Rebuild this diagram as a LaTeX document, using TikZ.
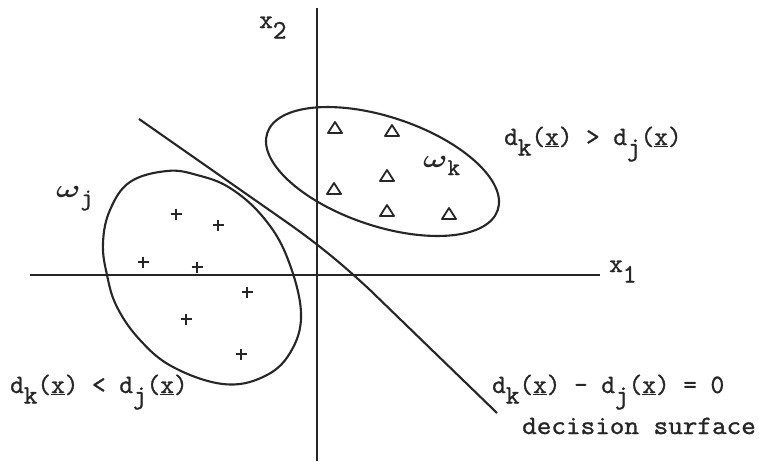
\documentclass[tikz,border=0pt]{standalone}
\usepackage{fontspec}
\setmonofont{Latin Modern Mono}[FakeBold=1.2]
\newcommand\lsub[1]{\raisebox{-10.5pt}{#1}}
\newcommand\osub[1]{\raisebox{-8pt}{\fontsize{24}{24}\selectfont\ttfamily #1}}
\newcommand\omg{\scalebox{1.3}[1]{\fontsize{34}{34}\selectfont\boldmath$\omega$}}
\begin{document}
\begin{tikzpicture}[x=1pt,y=-1pt,
  ln/.style={line width=2.1pt,black!85},
  thin ln/.style={line width=1.8pt,black!85},
  lbl/.style={inner sep=0pt,font=\fontsize{26.5}{26.5}\selectfont\ttfamily,text=black!85},
  cls/.style={inner sep=0pt,text=black!85}]
\fill[white] (0,0) rectangle (759,461);
\useasboundingbox (0,0) rectangle (759,461);
% axes
\coordinate (yt) at (317,8);
\coordinate (yb) at (317,461);
\coordinate (xl) at (30,275);
\coordinate (xr) at (600,275);
\draw[ln] (yt) -- (yb);
\draw[ln] (xl) -- (xr);
% class regions
\draw[ln] plot[smooth cycle, tension=0.65] coordinates {
  (167,171) (197,175) (230,188) (263,217) (287,257) (301,313) (290,353)
  (263,377) (223,384) (173,367) (140,340) (117,307) (107,275) (103,243)
  (110,210) (130,182)};
\draw[ln,rotate around={-18.5:(382.5,171.5)}] (382.5,171.5) ellipse [x radius=121.5pt, y radius=54.5pt];
% decision surface
\coordinate (ds0) at (139,119);
\coordinate (ds1) at (285,221);
\coordinate (ds2) at (370,290);
\coordinate (ds3) at (497,413);
\draw[ln,line join=round] (ds0) -- (ds1) .. controls (315,242) and (340,262) .. (ds2) -- (ds3);
% plus marks
\foreach \p in {(176,214),(218,225),(143,262),(197,267),(247,292),(186,319),(241,354)}
  \draw[thin ln] \p +(-5.5,0) -- +(5.5,0) \p +(0,-5.5) -- +(0,5.5);
% triangles
\foreach \p in {(335,128),(392,131),(387,176),(334,189),(387,211),(449,214)}
  \draw[thin ln,line join=round] \p +(-7,5) -- +(7,5) -- +(0,-6) -- cycle;
% axis labels
\node[lbl,anchor=base west] (x1) at (609,272) {x\lsub{1}};
\node[lbl,anchor=base west] (x2) at (259,28) {x\lsub{2}};
% class labels
\node[cls,anchor=base west] (wj) at (56,197) {\omg\osub{j}};
\node[cls,anchor=base west] (wk) at (423,167) {\omg\osub{k}};
% region labels
\node[lbl,anchor=base west] (gk) at (504,145) {d\lsub{k}(\underline{x}) > d\lsub{j}(\underline{x})};
\node[lbl,anchor=base west] (lk) at (10,393) {d\lsub{k}(\underline{x}) < d\lsub{j}(\underline{x})};
\node[lbl,anchor=base west] (eq) at (492,393) {d\lsub{k}(\underline{x}) - d\lsub{j}(\underline{x}) = 0};
\node[lbl,anchor=base west] (dsl) at (522,434) {\scalebox{1.07}[1]{decision surface}};
\end{tikzpicture}
\end{document}
